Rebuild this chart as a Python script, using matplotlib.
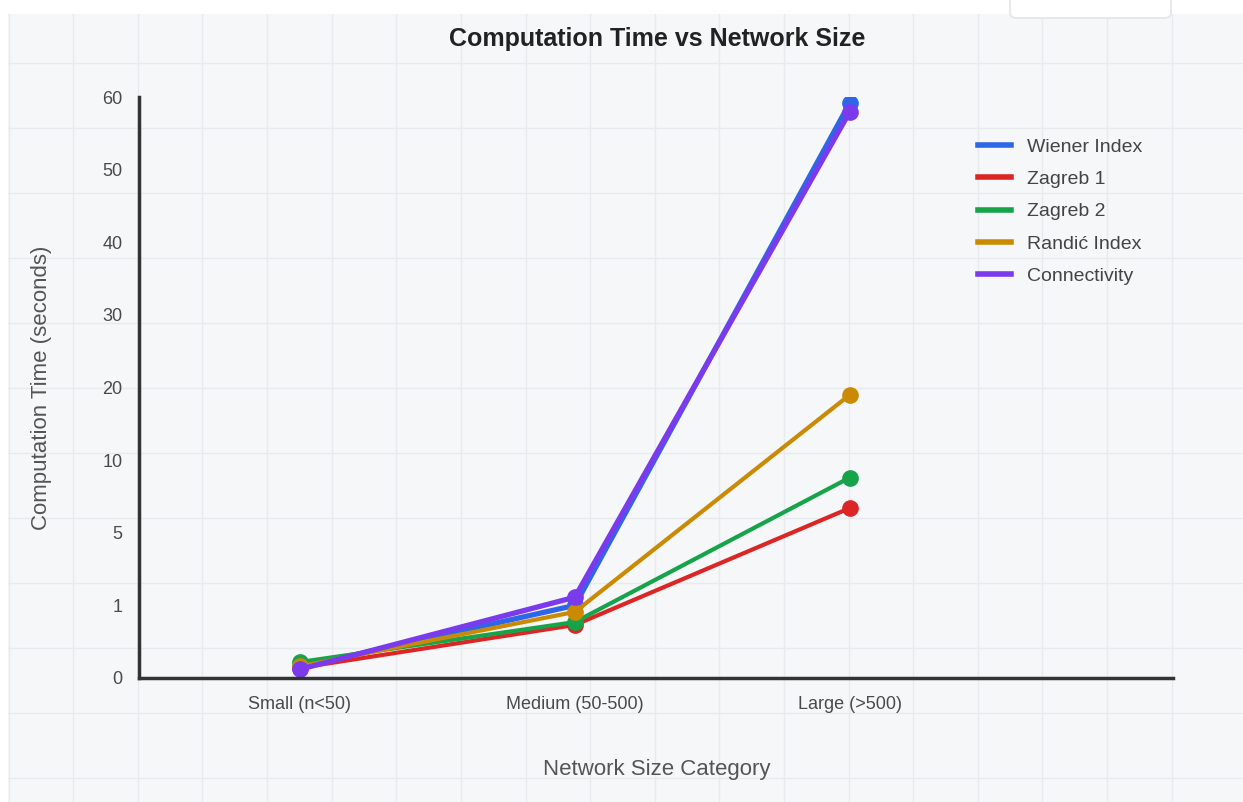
import numpy as np
import matplotlib.pyplot as plt
from matplotlib.patches import FancyBboxPatch

plt.rcParams['font.family'] = ['Liberation Sans', 'DejaVu Sans']

# data
categories = ['Small (n<50)', 'Medium (50-500)', 'Large (>500)']
wiener = [0.15, 1.0, 59.2]
zagreb1 = [0.14, 0.73, 6.7]
zagreb2 = [0.22, 0.77, 8.8]
randic = [0.16, 0.91, 19.0]
connectivity = [0.12, 1.45, 58.0]
series_names = ['Wiener Index', 'Zagreb 1', 'Zagreb 2', 'Randić Index', 'Connectivity']
series_colors = ['#2f66e8', '#dc2626', '#16a34a', '#ca8a04', '#7c3aed']
y_ticks = [0, 1, 5, 10, 20, 30, 40, 50, 60]

W, H = 1243, 802
fig = plt.figure(figsize=(W / 100, H / 100), dpi=100)
fig.patch.set_facecolor('white')

# page background with a faint square grid
bg = fig.add_axes([8 / W, 0, 1 - 8 / W, (H - 14) / H])
bg.set_facecolor('#f5f7f9')
bg.set_xlim(8, W)
bg.set_ylim(H, 14)
bg.set_xticks(8.7 + 64.6 * np.arange(19))
bg.set_yticks(63 + 65 * np.arange(12))
bg.grid(True, color='#e8ebee', linewidth=1)
bg.tick_params(length=0, labelbottom=False, labelleft=False)
for s in bg.spines.values():
    s.set_visible(False)
bg.set_zorder(-10)

# little box cut off at the top
box = FancyBboxPatch((1010 / W, 1 - 18 / H), 161 / W, 30 / H,
                     boxstyle='round,pad=0,rounding_size=0.006',
                     transform=fig.transFigure, facecolor='white',
                     edgecolor='#e2e5e9', linewidth=1.2)
fig.patches.append(box)

ax = fig.add_axes([139 / W, (H - 678) / H, (1173 - 139) / W, (678 - 97) / H])
ax.set_facecolor('none')

# uneven value axis: ticks are evenly spaced
idx = np.arange(len(y_ticks))
fwd = lambda v: np.interp(v, y_ticks, idx)
inv = lambda i: np.interp(i, idx, y_ticks)
ax.set_yscale('function', functions=(fwd, inv))

x = np.arange(len(categories))
data = [wiener, zagreb1, zagreb2, randic, connectivity]
widths = [3.8, 3.0, 3.0, 3.0, 3.8]
for vals, name, col, lw in zip(data, series_names, series_colors, widths):
    ax.plot(x, vals, '-o', color=col, linewidth=lw, markersize=11,
            label=name, solid_capstyle='round')

ax.set_xlim(-0.585, 3.175)
ax.set_ylim(0, 60)
ax.set_yticks(y_ticks)
ax.set_yticklabels([str(t) for t in y_ticks])
ax.set_xticks(x)
ax.set_xticklabels(categories)
ax.tick_params(length=0, labelsize=13, colors='#4a4a4a')
ax.tick_params(axis='y', pad=12)
ax.tick_params(axis='x', pad=13)
for s in ['top', 'right']:
    ax.spines[s].set_visible(False)
for s in ['left', 'bottom']:
    ax.spines[s].set_color('#333333')
    ax.spines[s].set_linewidth(2.5)

fig.text(657 / W, 1 - 39 / H, 'Computation Time vs Network Size',
         ha='center', va='center', fontsize=18, fontweight='bold', color='#222222')
fig.text(42 / W, 1 - 388 / H, 'Computation Time (seconds)', rotation=90,
         ha='center', va='center', fontsize=16, color='#555555')
fig.text(657 / W, 1 - 769 / H, 'Network Size Category',
         ha='center', va='center', fontsize=16, color='#555555')

handles = [plt.Line2D([], [], color=c, linewidth=4) for c in series_colors]
leg = fig.legend(handles, series_names, loc='upper left',
                 bbox_to_anchor=(978 / W, 1 - 138 / H), frameon=False,
                 fontsize=14, handlelength=1.7, handletextpad=0.8,
                 labelspacing=0.76, borderpad=0, borderaxespad=0)
for t in leg.get_texts():
    t.set_color('#444444')

fig.savefig('out.png', dpi=100)
